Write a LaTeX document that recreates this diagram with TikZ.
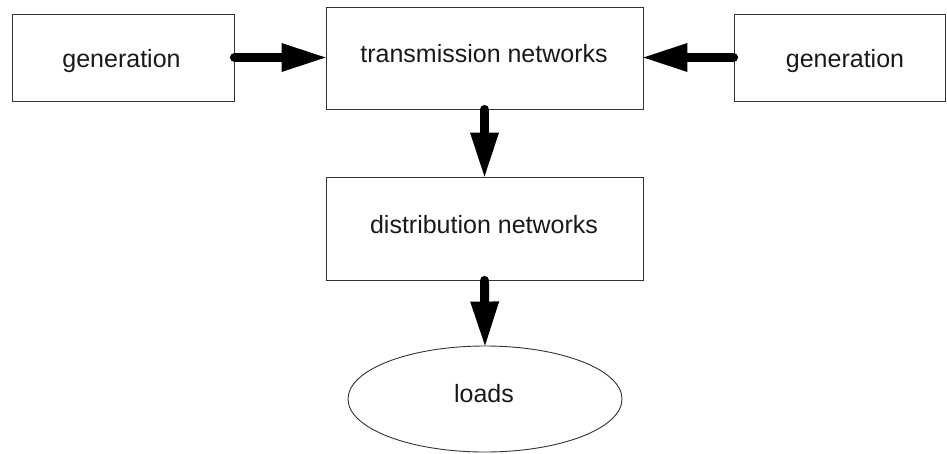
\documentclass[tikz,border=0pt]{standalone}
\usepackage{fontspec}
\setmainfont{Liberation Sans}
\usetikzlibrary{arrows.meta,shapes.geometric}
\begin{document}
\begin{tikzpicture}[x=1pt,y=-1pt,
  txt/.style={font=\fontsize{25}{30}\selectfont, text=black!90, anchor=base, inner sep=0pt},
  blk/.style={draw=black!80, line width=0.9pt, rectangle, inner sep=0pt},
  oval/.style={draw=black!80, line width=0.9pt, ellipse, inner sep=0pt},
  flow/.style={line width=9pt, line cap=round,
    -{Triangle[length=44pt,width=29pt,line width=0pt]}}]
  \useasboundingbox (0,0) rectangle (947,453);
  % blocks
  \node[blk, minimum width=222pt, minimum height=87pt] (genL) at (123,57.5) {};
  \node[blk, minimum width=317pt, minimum height=102pt] (trans) at (484.5,58) {};
  \node[blk, minimum width=211pt, minimum height=87pt] (genR) at (839.5,57.5) {};
  \node[blk, minimum width=317pt, minimum height=103pt] (dist) at (484.5,228.5) {};
  \node[oval, minimum width=274pt, minimum height=106pt] (loads) at (485,399) {};
  % labels, placed on their baselines
  \node[txt] (genLtxt) at (121.5,67) {generation};
  \node[txt] (transtxt) at (484,62) {transmission networks};
  \node[txt] (genRtxt) at (845,67) {generation};
  \node[txt] (disttxt) at (484,233) {distribution networks};
  \node[txt] (loadstxt) at (484,402) {loads};
  % power flow
  \draw[flow] (genL.east) -- (genL.east -| trans.west);
  \draw[flow] (genR.west) -- (genR.west -| trans.east);
  \draw[flow] (trans.south) -- (dist.north);
  \draw[flow] (dist.south) -- (loads.north);
\end{tikzpicture}
\end{document}
